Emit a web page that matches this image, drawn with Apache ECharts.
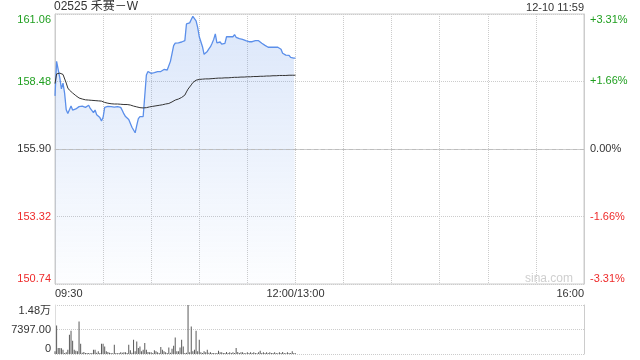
<!DOCTYPE html>
<html><head><meta charset="utf-8">
<script src="https://cdn.jsdelivr.net/npm/echarts@6/dist/echarts.min.js"></script>
<style>html,body{margin:0;padding:0;background:#fff}#c{width:640px;height:360px}</style>
</head><body><div id="c"></div>
<script>
const titleText = '02525 禾赛－W';
const timeText = '12-10 11:59';
const prevClose = 155.90;
const priceTicks = [150.74, 153.32, 155.90, 158.48, 161.06];
const priceGridTicks = [150.74, 153.32, 158.48, 161.06];
const pctTicks = [-3.31, -1.66, 0, 1.66, 3.31];
const volTicks = [0, 7397, 14794];
const volTickLabels = ['0', '7397.00', '1.48万'];
const xLabelIndex = [0, 150, 330];
const xLabelText = ['09:30', '12:00/13:00', '16:00'];

const priceData = [
157.93,159.25,159.20,158.62,158.20,158.42,158.03,157.40,157.26,157.30,
157.54,157.39,157.35,157.43,157.47,157.52,157.52,157.54,157.52,157.49,
157.48,157.57,157.45,157.52,157.29,157.39,157.21,157.26,157.10,156.97,
157.11,157.49,157.54,157.53,157.52,157.52,157.52,157.50,157.48,157.52,
157.57,157.49,157.37,157.24,157.14,157.07,157.03,156.98,156.73,156.75,
156.52,156.80,157.06,157.14,157.14,157.14,157.14,158.73,158.86,158.82,
158.79,158.84,158.82,158.81,158.86,158.82,158.86,158.89,158.94,158.97,
158.92,158.99,159.25,159.55,159.85,159.95,159.96,159.96,159.99,159.99,
160.00,160.04,160.68,160.75,160.72,160.85,160.97,160.96,160.80,160.55,
160.19,160.00,159.81,159.52,159.58,159.63,159.73,159.81,159.94,160.09,
160.30,159.96,159.89,159.99,159.91,159.86,159.94,160.19,160.24,160.19,
160.24,160.19,160.27,160.17,160.14,160.12,160.13,160.09,160.07,160.04,
160.00,160.00,160.00,160.00,160.00,160.04,160.07,160.04,160.00,159.94,
159.89,159.86,159.81,159.79,159.79,159.79,159.79,159.79,159.79,159.79,
159.77,159.71,159.56,159.49,159.49,159.49,159.48,159.40,159.37,159.37,159.37];

const avgData = [
158.40,158.77,158.80,158.80,158.79,158.75,158.69,158.42,158.23,158.15,
158.08,158.04,158.00,157.94,157.89,157.85,157.83,157.81,157.79,157.78,
157.77,157.77,157.76,157.76,157.75,157.75,157.74,157.74,157.73,157.73,
157.72,157.68,157.66,157.65,157.64,157.63,157.63,157.62,157.62,157.62,
157.61,157.61,157.61,157.60,157.60,157.60,157.59,157.58,157.56,157.54,
157.52,157.51,157.49,157.48,157.47,157.47,157.47,157.48,157.49,157.51,
157.52,157.53,157.54,157.55,157.56,157.57,157.58,157.59,157.60,157.62,
157.63,157.64,157.65,157.70,157.73,157.77,157.79,157.81,157.83,157.87,
157.91,157.96,158.08,158.19,158.27,158.35,158.44,158.50,158.53,158.55,
158.56,158.56,158.57,158.57,158.58,158.58,158.58,158.59,158.59,158.60,
158.60,158.60,158.61,158.61,158.61,158.62,158.62,158.62,158.62,158.63,
158.63,158.63,158.64,158.64,158.64,158.65,158.65,158.65,158.65,158.66,
158.66,158.66,158.66,158.67,158.67,158.67,158.67,158.68,158.68,158.68,
158.68,158.69,158.69,158.69,158.69,158.70,158.70,158.70,158.70,158.70,
158.71,158.71,158.71,158.71,158.71,158.72,158.72,158.72,158.72,158.72,158.72];

const volData = [
800,8600,1800,1800,1700,1300,300,500,1300,5800,
7000,4000,1300,1000,800,9800,3100,400,600,300,
300,300,200,300,1300,1300,400,800,300,3100,
3100,2300,800,600,400,300,200,2800,300,200,
300,500,400,500,500,300,2800,1100,400,4300,
800,3800,1800,2300,800,1300,3300,1300,600,500,
500,300,1100,800,500,300,2100,1300,800,500,
300,2000,400,1600,2500,5000,800,800,2000,4300,
2300,300,400,14794,500,8300,800,1300,7000,800,
4300,500,300,800,500,1300,400,500,300,300,
200,300,1000,500,500,300,300,600,300,500,
300,500,300,1800,600,300,500,500,300,200,
500,300,500,300,500,300,200,500,1000,300,
500,300,500,300,500,300,300,500,300,200,
500,300,600,300,200,500,300,300,800,300,200];

// minute categories 09:30-12:00 and 13:01-16:00
const cats = [];
function hm(m){const h=Math.floor(m/60), mm=m%60; return (h<10?'0':'')+h+':'+(mm<10?'0':'')+mm;}
for (let m = 570; m <= 720; m++) cats.push(hm(m));
for (let m = 781; m <= 960; m++) cats.push(hm(m));

const FONT = '"Liberation Sans", Arial, "Noto Sans CJK SC", sans-serif';
const GREEN = '#1f9f1f', RED = '#ee2b2b', DARK = '#333';
const GRID_C = '#cccccc';

const chart = echarts.init(document.getElementById('c'), null, {renderer: 'canvas'});
chart.setOption({
  animation: false,
  textStyle: {fontFamily: FONT},
  title: [
    {text: titleText, left: 54, top: 1, padding: 0, textStyle: {fontSize: 12, fontWeight: 'normal', color: DARK, fontFamily: FONT}},
    {text: timeText, right: 56, top: 2, padding: 0, textStyle: {fontSize: 11, fontWeight: 'normal', color: DARK, fontFamily: FONT}},
    {text: 'sina.com', right: 67, top: 273, padding: 0, textStyle: {fontSize: 12, fontWeight: 'normal', color: '#cfcfcf', fontFamily: FONT}}
  ],
  grid: [
    {left: 55, right: 56, top: 14, height: 270, show: true, borderColor: GRID_C, borderWidth: 1, backgroundColor: 'transparent'},
    {left: 55, right: 56, top: 305, height: 49}
  ],
  xAxis: [
    {type: 'category', gridIndex: 0, data: cats, boundaryGap: false,
     axisLine: {show: true, lineStyle: {color: GRID_C}}, axisTick: {show: false},
     axisLabel: {interval: (i) => xLabelIndex.indexOf(i) >= 0,
       formatter: (v, i) => { const k = xLabelIndex.indexOf(i); return k >= 0 ? xLabelText[k] : ''; },
       color: DARK, fontSize: 11, margin: 4, alignMinLabel: 'left', alignMaxLabel: 'right', showMinLabel: true, showMaxLabel: true},
     splitLine: {show: true, interval: (i) => i % 30 === 0, lineStyle: {color: GRID_C, type: 'dotted', width: 1}}},
    {type: 'category', gridIndex: 1, data: cats, boundaryGap: false,
     axisLine: {show: false}, axisTick: {show: false}, axisLabel: {show: false}, splitLine: {show: false}}
  ],
  yAxis: [
    {type: 'value', gridIndex: 0, position: 'left', min: 150.74, max: 161.06, scale: true,
     axisLine: {show: true, lineStyle: {color: GRID_C}},
     axisTick: {show: false, customValues: priceGridTicks},
     axisLabel: {customValues: priceTicks, fontSize: 11, margin: 4,
       formatter: (v) => Number(v).toFixed(2),
       color: (v) => { v = Number(v); return v > prevClose + 0.001 ? GREEN : (v < prevClose - 0.001 ? RED : DARK); },
       verticalAlignMinLabel: 'bottom', verticalAlignMaxLabel: 'top'},
     splitLine: {show: true, lineStyle: {color: GRID_C, type: 'dotted', width: 1}}},
    {type: 'value', gridIndex: 0, position: 'right', min: -3.31, max: 3.31,
     axisLine: {show: true, lineStyle: {color: GRID_C}},
     axisTick: {show: false, customValues: pctTicks},
     axisLabel: {customValues: pctTicks, fontSize: 11, margin: 6,
       formatter: (v) => (v > 0 ? '+' : '') + Number(v).toFixed(2) + '%',
       color: (v) => { v = Number(v); return v > 0.001 ? GREEN : (v < -0.001 ? RED : DARK); },
       verticalAlignMinLabel: 'bottom', verticalAlignMaxLabel: 'top'},
     splitLine: {show: false}},
    {type: 'value', gridIndex: 1, position: 'left', min: 0, max: 14794,
     axisLine: {show: true, lineStyle: {color: '#dddddd'}},
     axisTick: {show: false, customValues: volTicks},
     axisLabel: {customValues: volTicks, fontSize: 11, margin: 4, color: DARK,
       formatter: (v) => { const k = volTicks.indexOf(Number(v)); return k >= 0 ? volTickLabels[k] : ''; },
       verticalAlignMinLabel: 'bottom', verticalAlignMaxLabel: 'top'},
     splitLine: {show: true, lineStyle: {color: GRID_C, type: 'dotted', width: 1}}},
    {type: 'value', gridIndex: 1, position: 'right', min: 0, max: 14794,
     axisLine: {show: true, lineStyle: {color: GRID_C}},
     axisTick: {show: false}, axisLabel: {show: false}, splitLine: {show: false}}
  ],
  series: [
    {type: 'line', xAxisIndex: 0, yAxisIndex: 0, data: priceData, showSymbol: false, symbol: 'none',
     lineStyle: {color: '#5b8fea', width: 1.3}, itemStyle: {color: '#5b8fea'},
     areaStyle: {origin: 'start', color: new echarts.graphic.LinearGradient(0, 0, 0, 1, [
       {offset: 0, color: 'rgba(86,140,232,0.30)'}, {offset: 1, color: 'rgba(86,140,232,0.02)'}])},
     markLine: {symbol: 'none', silent: true, label: {show: false}, animation: false,
       lineStyle: {color: '#bdbdbd', type: [4, 3], width: 1}, data: [{yAxis: prevClose}]}},
    {type: 'line', xAxisIndex: 0, yAxisIndex: 0, data: avgData, showSymbol: false, symbol: 'none',
     lineStyle: {color: '#333333', width: 1}, itemStyle: {color: '#333'}},
    {type: 'bar', xAxisIndex: 1, yAxisIndex: 2, data: volData, barWidth: 1,
     itemStyle: {color: '#5a5a5a'}}
  ]
});
</script>
</body></html>
